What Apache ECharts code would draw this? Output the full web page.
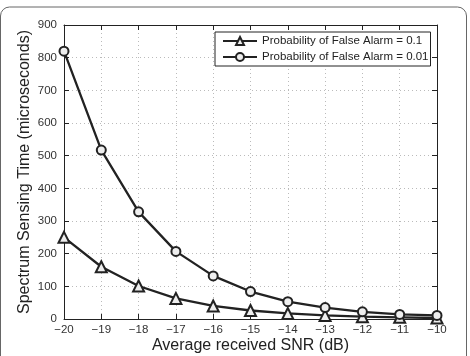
<!DOCTYPE html>
<html>
<head>
<meta charset="utf-8">
<script src="https://cdn.jsdelivr.net/npm/echarts@6/dist/echarts.min.js"></script>
<style>
  html, body { margin: 0; padding: 0; background: #fff; }
  #chart { width: 470px; height: 356px; }
</style>
</head>
<body>
<div id="chart"></div>
<script>
// SNR values (dB)
var snr = [-20, -19, -18, -17, -16, -15, -14, -13, -12, -11, -10];
// sensing time (microseconds)
var pfa01 = [250, 160, 101, 63, 40, 26, 17, 11, 7, 5, 3];
var pfa001 = [820, 517, 328, 207, 132, 84, 53, 35, 22, 14, 11];
var seriesNames = ['Probability of False Alarm = 0.1', 'Probability of False Alarm = 0.01'];

var font = 'Liberation Sans, Arial, sans-serif';
var dark = '#222';

function minus(v) {
    return String(v).replace('-', '\u2212');
}

function pairs(xs, ys) {
    return xs.map(function (x, i) { return [x, ys[i]]; });
}

var chart = echarts.init(document.getElementById('chart'), null, { renderer: 'canvas' });

var xBase = {
    type: 'value', min: -20, max: -10, interval: 1,
    axisLine: { onZero: false, lineStyle: { color: dark, width: 1 } },
    axisTick: { inside: true, length: 5, lineStyle: { color: dark } }
};
var yBase = {
    type: 'value', min: 0, max: 900, interval: 100,
    axisLine: { show: true, lineStyle: { color: dark, width: 1 } },
    axisTick: { show: true, inside: true, length: 5, lineStyle: { color: dark } }
};

chart.setOption({
    animation: false,
    textStyle: { fontFamily: font },
    grid: { left: 64, right: 33, top: 25, bottom: 37, outerBoundsMode: 'none', containLabel: false },
    graphic: [{
        type: 'rect',
        shape: { x: 0.5, y: 7, width: 466, height: 420, r: 9 },
        style: { fill: 'none', stroke: '#666', lineWidth: 1 },
        z: -1
    }],
    legend: {
        orient: 'vertical',
        left: 215, top: 32,
        padding: [3, 2, 3, 7],
        itemGap: 4,
        itemWidth: 34, itemHeight: 10,
        backgroundColor: '#fff',
        borderColor: dark, borderWidth: 1,
        textStyle: { fontSize: 11.5, color: '#222', fontFamily: font },
        data: seriesNames
    },
    xAxis: [
        Object.assign({}, xBase, {
            position: 'bottom',
            name: 'Average received SNR (dB)',
            nameLocation: 'middle', nameGap: 19, nameMoveOverlap: false,
            nameTextStyle: { fontSize: 16, color: '#222' },
            axisLabel: { fontSize: 11.5, color: '#333', margin: 5, formatter: minus },
            splitLine: { show: true, lineStyle: { color: '#bbb', type: [1, 3], width: 1 } }
        }),
        Object.assign({}, xBase, {
            position: 'top',
            axisLabel: { show: false },
            splitLine: { show: false }
        })
    ],
    yAxis: [
        Object.assign({}, yBase, {
            position: 'left',
            name: 'Spectrum Sensing Time (microseconds)',
            nameLocation: 'middle', nameGap: 31, nameMoveOverlap: false,
            nameTextStyle: { fontSize: 16, color: '#222' },
            axisLabel: { fontSize: 11.5, color: '#333', margin: 7 },
            splitLine: { show: true, lineStyle: { color: '#bbb', type: [1, 3], width: 1 } }
        }),
        Object.assign({}, yBase, {
            position: 'right',
            axisLabel: { show: false },
            splitLine: { show: false }
        })
    ],
    series: [
        {
            name: seriesNames[0],
            type: 'line',
            data: pairs(snr, pfa01),
            symbol: 'triangle', symbolSize: 11,
            lineStyle: { color: dark, width: 2.3 },
            itemStyle: { color: '#eee', borderColor: dark, borderWidth: 2 },
            z: 3
        },
        {
            name: seriesNames[1],
            type: 'line',
            data: pairs(snr, pfa001),
            symbol: 'circle', symbolSize: 9,
            lineStyle: { color: dark, width: 2.3 },
            itemStyle: { color: '#eee', borderColor: dark, borderWidth: 2 },
            z: 3
        }
    ]
});
</script>
</body>
</html>
